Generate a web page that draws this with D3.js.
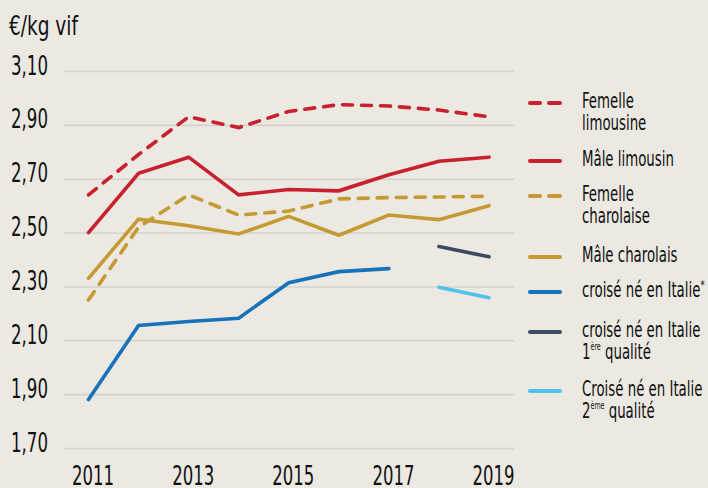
<!DOCTYPE html>
<html>
<head>
<meta charset="utf-8">
<script src="https://cdn.jsdelivr.net/npm/d3@7"></script>
<style>
  html, body { margin: 0; padding: 0; background: #ECE9E3; }
  svg { display: block; }
  text { font-family: "DejaVu Sans Condensed", "Liberation Sans Narrow", "Liberation Sans", sans-serif; fill: #111; }
</style>
</head>
<body>
<svg id="chart" width="708" height="488"></svg>
<script>
const years = [2011, 2012, 2013, 2014, 2015, 2016, 2017, 2018, 2019];
const xTickValues = [2011, 2013, 2015, 2017, 2019];
const yTickValues = [1.70, 1.90, 2.10, 2.30, 2.50, 2.70, 2.90, 3.10];
const yTickLabels = ["1,70", "1,90", "2,10", "2,30", "2,50", "2,70", "2,90", "3,10"];
const yTitle = "€/kg vif";

const femelleLimousine = [2.64, 2.79, 2.93, 2.89, 2.95, 2.975, 2.97, 2.955, 2.93];
const maleLimousin = [2.50, 2.72, 2.78, 2.64, 2.66, 2.655, 2.715, 2.765, 2.78];
const femelleCharolaise = [2.25, 2.52, 2.64, 2.565, 2.58, 2.625, 2.63, 2.632, 2.635];
const maleCharolais = [2.33, 2.55, 2.525, 2.495, 2.56, 2.49, 2.565, 2.548, 2.60];
const croiseItalie = [1.88, 2.155, 2.17, 2.182, 2.314, 2.355, 2.366, null, null];
const croiseItalie1 = [null, null, null, null, null, null, null, 2.448, 2.41];
const croiseItalie2 = [null, null, null, null, null, null, null, 2.297, 2.258];

const series = [
  { name: ["Femelle", "limousine"], values: femelleLimousine, color: "#C8202F", dashed: true },
  { name: ["Mâle limousin"], values: maleLimousin, color: "#C8202F", dashed: false },
  { name: ["Femelle", "charolaise"], values: femelleCharolaise, color: "#C69A33", dashed: true },
  { name: ["Mâle charolais"], values: maleCharolais, color: "#C69A33", dashed: false },
  { name: [["croisé né en Italie", "*"]], values: croiseItalie, color: "#1673BA", dashed: false },
  { name: ["croisé né en Italie", ["1", "ère", " qualité"]], values: croiseItalie1, color: "#3D4B60", dashed: false },
  { name: ["Croisé né en Italie", ["2", "ème", " qualité"]], values: croiseItalie2, color: "#4EC2EA", dashed: false }
];

const legendY = [103, 161, 196, 257, 292, 332, 391];

const svg = d3.select("#chart");

// horizontal squeeze factor so that a reference string has the reference width
function squeeze(str, size, targetW) {
  const t = svg.append("text").style("font-size", size + "px").text(str);
  const w = t.node().getComputedTextLength();
  t.remove();
  return targetW / w;
}
const sY = squeeze("2,90", 27, 37);
const sX = squeeze("2013", 27, 42);
const sT = squeeze("€/kg vif", 27, 69);
const sL = squeeze("Mâle limousin", 21, 92);

const x = d3.scaleLinear().domain([2011, 2019]).range([88.5, 489]);
const y = d3.scaleLinear().domain([1.70, 3.10]).range([448, 71]);

// Y axis with gridlines
const yAxis = d3.axisLeft(y)
  .tickValues(yTickValues)
  .tickFormat((d, i) => yTickLabels[i])
  .tickSize(-450)
  .tickPadding(0);
const gy = svg.append("g").attr("transform", "translate(64,0)").call(yAxis);
gy.select(".domain").remove();
gy.selectAll(".tick line").attr("stroke", "#D5D2CD").attr("stroke-width", 1.6);
gy.selectAll(".tick text")
  .attr("x", 0).attr("dy", 0)
  .attr("transform", `translate(-16,3) scale(${sY},1)`)
  .attr("text-anchor", "end")
  .style("font-size", "27px")
  .style("fill", "#111");

// X axis
const xAxis = d3.axisBottom(x)
  .tickValues(xTickValues)
  .tickFormat(d3.format("d"))
  .tickSize(0);
const gx = svg.append("g").attr("transform", "translate(0,485)").call(xAxis);
gx.select(".domain").remove();
gx.selectAll(".tick text")
  .attr("y", 0).attr("dy", 0)
  .attr("transform", `translate(4,0) scale(${sX},1)`)
  .attr("text-anchor", "middle")
  .style("font-size", "27px")
  .style("fill", "#111");

// Y title
svg.append("text")
  .attr("transform", `translate(9,35) scale(${sT},1)`)
  .style("font-size", "27px")
  .text(yTitle);

// Lines
const line = d3.line()
  .defined(d => d.v != null)
  .x(d => x(d.year))
  .y(d => y(d.v));

series.forEach(s => {
  const pts = years.map((yr, i) => ({ year: yr, v: s.values[i] }));
  svg.append("path")
    .datum(pts)
    .attr("d", line)
    .attr("fill", "none")
    .attr("stroke", s.color)
    .attr("stroke-width", 3.6)
    .attr("stroke-linejoin", "miter")
    .attr("stroke-linecap", "round")
    .attr("stroke-dasharray", s.dashed ? "10,9" : null);
});

// Legend
const lg = svg.append("g");
series.forEach((s, i) => {
  const ly = legendY[i];
  if (s.dashed) {
    lg.append("line").attr("x1", 530).attr("x2", 540).attr("y1", ly).attr("y2", ly)
      .attr("stroke", s.color).attr("stroke-width", 4).attr("stroke-linecap", "round");
    lg.append("line").attr("x1", 549).attr("x2", 560).attr("y1", ly).attr("y2", ly)
      .attr("stroke", s.color).attr("stroke-width", 4).attr("stroke-linecap", "round");
  } else {
    lg.append("line").attr("x1", 530).attr("x2", 560).attr("y1", ly).attr("y2", ly)
      .attr("stroke", s.color).attr("stroke-width", 4).attr("stroke-linecap", "round");
  }
  s.name.forEach((ln, j) => {
    const t = lg.append("text")
      .attr("transform", `translate(582,${ly + 5 + j * 22}) scale(${sL},1)`)
      .style("font-size", "21px");
    if (Array.isArray(ln)) {
      if (ln.length === 2) {
        t.append("tspan").text(ln[0]);
        t.append("tspan").attr("dy", -8).style("font-size", "13px").text(ln[1]);
      } else {
        t.append("tspan").text(ln[0]);
        t.append("tspan").attr("dy", -9).style("font-size", "10px").text(ln[1]);
        t.append("tspan").attr("dy", 9).text(ln[2]);
      }
    } else {
      t.text(ln);
    }
  });
});
</script>
</body>
</html>
